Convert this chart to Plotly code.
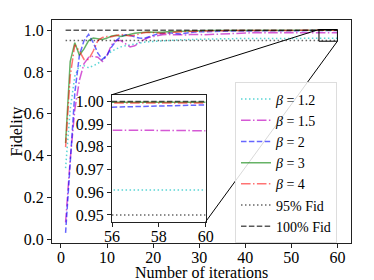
import plotly.graph_objects as go

iters = list(range(1, 61))

fid_b12 = [0.34, 0.62, 0.78, 0.83, 0.83, 0.82, 0.83, 0.84, 0.86, 0.88,
           0.90, 0.91, 0.92, 0.925, 0.93, 0.935, 0.94, 0.942, 0.944, 0.946,
           0.948, 0.950, 0.951, 0.952, 0.953, 0.954, 0.955, 0.955, 0.956, 0.957,
           0.957, 0.958, 0.958, 0.958, 0.959, 0.959, 0.959, 0.960, 0.960, 0.960,
           0.960, 0.960, 0.9605, 0.9605, 0.9605, 0.9607, 0.9607, 0.9608, 0.9608, 0.9608,
           0.9609, 0.9609, 0.9609, 0.961, 0.961, 0.961, 0.961, 0.961, 0.961, 0.961]

fid_b15 = [0.08, 0.38, 0.62, 0.76, 0.84, 0.87, 0.875, 0.87, 0.85, 0.88,
           0.93, 0.95, 0.95, 0.935, 0.92, 0.925, 0.94, 0.955, 0.965, 0.97,
           0.975, 0.978, 0.979, 0.978, 0.976, 0.975, 0.977, 0.979, 0.98, 0.979,
           0.978, 0.979, 0.981, 0.983, 0.984, 0.985, 0.986, 0.986, 0.9865, 0.9868,
           0.987, 0.987, 0.9872, 0.9873, 0.9874, 0.9875, 0.9875, 0.9875, 0.9875, 0.9875,
           0.9875, 0.9875, 0.9875, 0.9875, 0.9875, 0.9875, 0.9874, 0.9873, 0.9872, 0.9871]

fid_b2 = [0.03, 0.38, 0.70, 0.88, 0.95, 0.98, 0.94, 0.89, 0.86, 0.88,
          0.92, 0.95, 0.97, 0.978, 0.975, 0.968, 0.962, 0.96, 0.966, 0.975,
          0.982, 0.986, 0.987, 0.986, 0.983, 0.982, 0.985, 0.989, 0.991, 0.992,
          0.993, 0.993, 0.994, 0.994, 0.995, 0.995, 0.9955, 0.996, 0.996, 0.9962,
          0.9963, 0.9965, 0.9966, 0.9967, 0.9968, 0.9969, 0.997, 0.997, 0.997, 0.9971,
          0.9971, 0.9972, 0.9972, 0.9973, 0.9974, 0.9975, 0.9978, 0.998, 0.9983, 0.9985]

fid_b3 = [0.46, 0.85, 0.94, 0.88, 0.91, 0.95, 0.962, 0.96, 0.955, 0.962,
          0.972, 0.975, 0.97, 0.974, 0.98, 0.985, 0.988, 0.99, 0.991, 0.99,
          0.989, 0.99, 0.992, 0.993, 0.994, 0.995, 0.996, 0.996, 0.997, 0.997,
          0.9975, 0.998, 0.998, 0.9982, 0.9984, 0.9985, 0.9986, 0.9988, 0.9989, 0.999,
          0.999, 0.9991, 0.9992, 0.9992, 0.9993, 0.9993, 0.9994, 0.9994, 0.9995, 0.9995,
          0.9995, 0.9996, 0.9996, 0.9996, 0.9996, 0.9997, 0.9997, 0.9997, 0.9997, 0.9997]

fid_b4 = [0.44, 0.78, 0.93, 0.90, 0.86, 0.86, 0.90, 0.95, 0.965, 0.97,
          0.968, 0.975, 0.98, 0.976, 0.972, 0.975, 0.983, 0.988, 0.99, 0.988,
          0.985, 0.984, 0.986, 0.989, 0.991, 0.992, 0.993, 0.994, 0.995, 0.995,
          0.996, 0.996, 0.997, 0.997, 0.9975, 0.998, 0.998, 0.998, 0.9985, 0.9985,
          0.9987, 0.9988, 0.9989, 0.999, 0.999, 0.999, 0.9991, 0.9991, 0.9992, 0.9992,
          0.9992, 0.9993, 0.9993, 0.9993, 0.9993, 0.9993, 0.9993, 0.9993, 0.9993, 0.9993]

fid95 = [0.95] * 60
fid100 = [1.0] * 60

series_names = ["<i>β</i> = 1.2", "<i>β</i> = 1.5", "<i>β</i> = 2", "<i>β</i> = 3",
                "<i>β</i> = 4", "95% Fid", "100% Fid"]
series_vals = [fid_b12, fid_b15, fid_b2, fid_b3, fid_b4, fid95, fid100]

x_title = "Number of iterations"
y_title = "Fidelity"

DOT = "1.5px,2.5px"
DASH = "5.5px,2.4px"
DASHDOT = "9.6px,2.4px,1.5px,2.4px"
styles = [
    dict(color="rgba(0,191,191,0.65)", dash=DOT),
    dict(color="rgba(191,0,191,0.65)", dash=DASHDOT),
    dict(color="rgba(0,0,255,0.6)", dash=DASH),
    dict(color="rgba(0,128,0,0.6)", dash="solid"),
    dict(color="rgba(255,0,0,0.55)", dash=DASHDOT),
    dict(color="rgba(0,0,0,0.6)", dash=DOT),
    dict(color="rgba(0,0,0,0.65)", dash=DASH),
]

FONT = '"Liberation Serif", "Times New Roman", Times, "DejaVu Serif", serif'

fig = go.Figure()
for name, vals, st in zip(series_names, series_vals, styles):
    fig.add_trace(go.Scatter(x=iters, y=vals, mode="lines", name=name,
                             line=dict(width=1.5, **st), xaxis="x", yaxis="y"))
for name, vals, st in zip(series_names, series_vals, styles):
    fig.add_trace(go.Scatter(x=iters, y=vals, mode="lines", name=name, showlegend=False,
                             line=dict(width=1.5, **st), xaxis="x2", yaxis="y2"))

x_rng = [-1.95, 62.95]
y_rng = [-0.0185, 1.0485]
ins_x = [56, 60]
ins_y = [0.947, 1.003]
ins_dom_x = [0.2007, 0.514]
ins_dom_y = [0.0955, 0.665]

def px2x(p):
    return x_rng[0] + p * (x_rng[1] - x_rng[0])

def py2y(p):
    return y_rng[0] + p * (y_rng[1] - y_rng[0])

shapes = [
    dict(type="rect", xref="x", yref="y", x0=ins_x[0], x1=ins_x[1], y0=ins_y[0], y1=ins_y[1],
         line=dict(color="black", width=1)),
    dict(type="line", xref="x", yref="y", x0=ins_x[0], y0=ins_y[1],
         x1=px2x(ins_dom_x[0]), y1=py2y(ins_dom_y[1]), line=dict(color="black", width=1)),
    dict(type="line", xref="x", yref="y", x0=ins_x[1], y0=ins_y[0],
         x1=px2x(ins_dom_x[1]), y1=py2y(ins_dom_y[0]), line=dict(color="black", width=1)),
]

annotations = [
    dict(text=x_title, xref="paper", yref="paper", x=0.5, y=-0.1345,
         xanchor="center", yanchor="middle", showarrow=False,
         font=dict(family=FONT, size=16, color="black")),
    dict(text=y_title, xref="paper", yref="paper", x=-0.12, y=0.5, textangle=-90,
         xanchor="center", yanchor="middle", showarrow=False,
         font=dict(family=FONT, size=16, color="black")),
]

axis_common = dict(showgrid=False, zeroline=False, showline=True, linecolor="#222",
                   linewidth=1, mirror=True, ticks="outside", ticklen=4, tickcolor="#222",
                   automargin=False,
                   tickfont=dict(family=FONT, size=16, color="black"))

fig.update_layout(
    width=374, height=280,
    margin=dict(l=52, r=23, t=20, b=37),
    paper_bgcolor="white", plot_bgcolor="white",
    font=dict(family=FONT, size=16, color="black"),
    showlegend=True,
    legend=dict(x=0.612, y=0.72, xanchor="left", yanchor="top",
                bgcolor="rgba(255,255,255,0.85)", bordercolor="#ddd", borderwidth=1,
                font=dict(family=FONT, size=14), itemwidth=30, tracegroupgap=0),
    xaxis=dict(range=x_rng, tickvals=[0, 10, 20, 30, 40, 50, 60], ticklabelstandoff=-4,
               **axis_common),
    yaxis=dict(range=y_rng, tickvals=[0, 0.2, 0.4, 0.6, 0.8, 1.0], tickformat=".1f",
               **axis_common),
    xaxis2=dict(domain=ins_dom_x, anchor="y2", range=ins_x, tickvals=[56, 58, 60],
                ticklabelstandoff=-4, **axis_common),
    yaxis2=dict(domain=ins_dom_y, anchor="x2", range=ins_y,
                tickvals=[0.95, 0.96, 0.97, 0.98, 0.99, 1.00], tickformat=".2f",
                **axis_common),
    shapes=shapes,
    annotations=annotations,
)

fig.write_html("out.html", config={"displayModeBar": False},
               post_script="document.body.style.margin='0';document.body.style.overflow='hidden';")
